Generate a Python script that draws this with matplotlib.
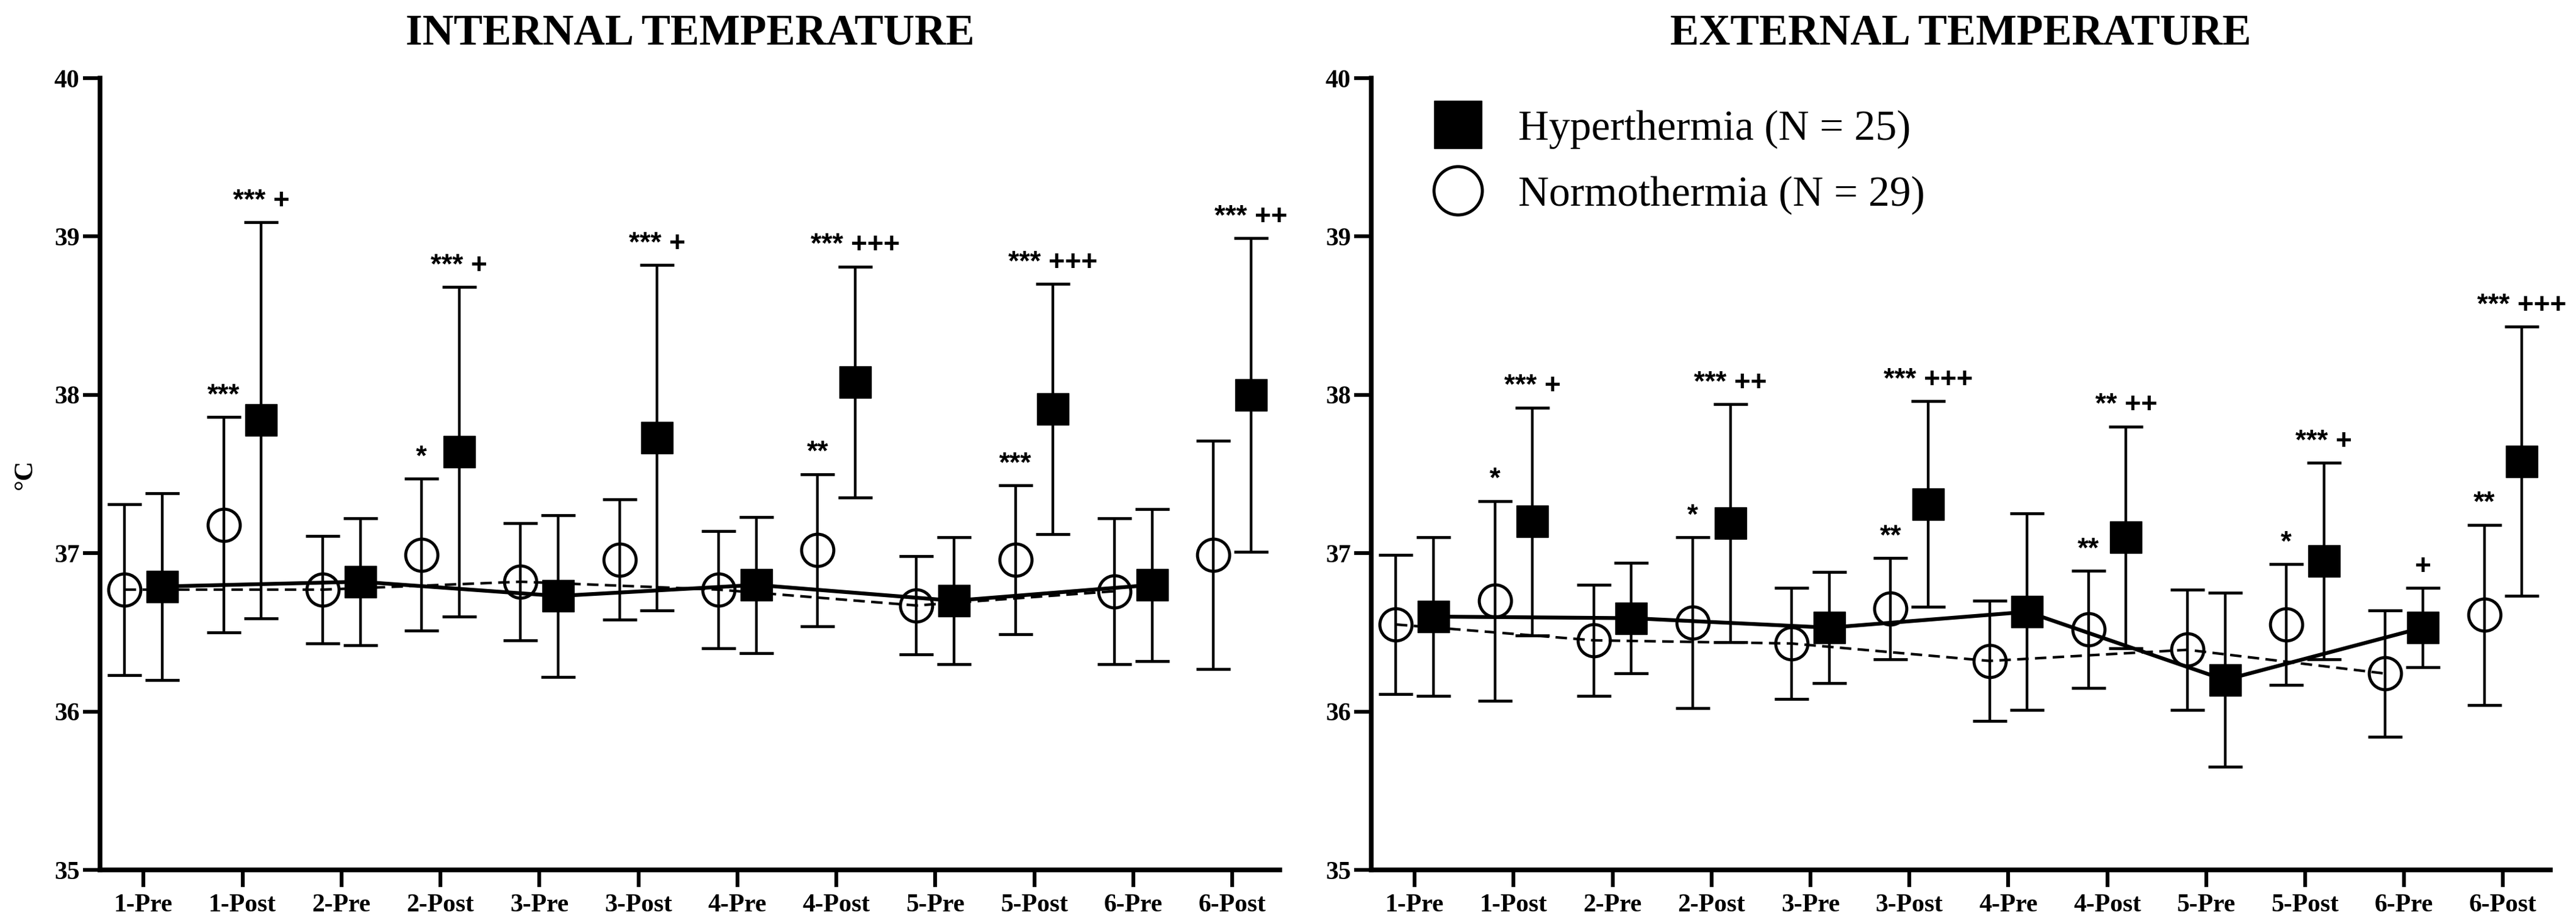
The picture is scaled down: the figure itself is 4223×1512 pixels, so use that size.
import matplotlib
matplotlib.use("Agg")
import matplotlib.pyplot as plt
import numpy as np

# ---- data ----
time_points = ["1-Pre", "1-Post", "2-Pre", "2-Post", "3-Pre", "3-Post",
               "4-Pre", "4-Post", "5-Pre", "5-Post", "6-Pre", "6-Post"]

# internal temperature (mean, SD)
int_hyper_mean = [36.79, 37.84, 36.82, 37.64, 36.73, 37.73, 36.80, 38.08, 36.70, 37.91, 36.80, 38.00]
int_hyper_sd = [0.59, 1.25, 0.40, 1.04, 0.51, 1.09, 0.43, 0.73, 0.40, 0.79, 0.48, 0.99]
int_norm_mean = [36.77, 37.18, 36.77, 36.99, 36.82, 36.96, 36.77, 37.02, 36.67, 36.96, 36.76, 36.99]
int_norm_sd = [0.54, 0.68, 0.34, 0.48, 0.37, 0.38, 0.37, 0.48, 0.31, 0.47, 0.46, 0.72]

# external temperature (mean, SD)
ext_hyper_mean = [36.60, 37.20, 36.59, 37.19, 36.53, 37.31, 36.63, 37.10, 36.20, 36.95, 36.53, 37.58]
ext_hyper_sd = [0.50, 0.72, 0.35, 0.75, 0.35, 0.65, 0.62, 0.70, 0.55, 0.62, 0.25, 0.85]
ext_norm_mean = [36.55, 36.70, 36.45, 36.56, 36.43, 36.65, 36.32, 36.52, 36.39, 36.55, 36.24, 36.61]
ext_norm_sd = [0.44, 0.63, 0.35, 0.54, 0.35, 0.32, 0.38, 0.37, 0.38, 0.38, 0.40, 0.57]

# significance marks written above the error bars
int_norm_sig = ["", "***", "", "*", "", "", "", "**", "", "***", "", ""]
int_hyper_sig = ["", "*** +", "", "*** +", "", "*** +", "", "*** +++", "", "*** +++", "", "*** ++"]
ext_norm_sig = ["", "*", "", "*", "", "**", "", "**", "", "*", "", "**"]
ext_hyper_sig = ["", "*** +", "", "*** ++", "", "*** +++", "", "** ++", "", "*** +", "+", "*** +++"]

# ---- style ----
SERIF = "Liberation Serif"
SANS = "Liberation Sans"
OFF = 0.19          # horizontal offset of the two groups around each tick
DPI = 100


def panel(ax, title, hm, hs, nm, ns, hsig, nsig):
    x = np.arange(len(time_points))
    xh = x + OFF
    xn = x - OFF
    hm, hs, nm, ns = map(np.asarray, (hm, hs, nm, ns))

    # error bars
    ax.errorbar(xn, nm, yerr=ns, fmt="none", ecolor="black", elinewidth=3.2,
                capsize=20, capthick=3.4, zorder=2)
    ax.errorbar(xh, hm, yerr=hs, fmt="none", ecolor="black", elinewidth=3.2,
                capsize=20, capthick=3.4, zorder=2)

    # lines joining only the Pre values
    pre = x[::2]
    ax.plot(xn[pre], nm[pre], color="black", lw=3.0, ls=(0, (4.5, 2.5)), zorder=3)
    ax.plot(xh[pre], hm[pre], color="black", lw=4.5, ls="-", zorder=3)

    # markers
    hl, = ax.plot(xh, hm, ls="none", marker="s", ms=37, mfc="black", mec="black",
                  zorder=5, label="Hyperthermia (N = 25)")
    nl, = ax.plot(xn, nm, ls="none", marker="o", ms=38, mfc="none", mec="black",
                  mew=3.6, zorder=4, label="Normothermia (N = 29)")

    # significance labels
    for i in range(len(time_points)):
        if nsig[i]:
            ax.annotate(nsig[i], (xn[i], nm[i] + ns[i]), xytext=(0, 9),
                        textcoords="offset points", ha="center", va="bottom",
                        fontsize=33, fontweight="bold", family=SANS)
        if hsig[i]:
            ax.annotate(hsig[i], (xh[i], hm[i] + hs[i]), xytext=(0, 9),
                        textcoords="offset points", ha="center", va="bottom",
                        fontsize=33, fontweight="bold", family=SANS)

    ax.set_ylim(35, 40)
    ax.set_xlim(-0.44, 11.48)
    ax.set_yticks([35, 36, 37, 38, 39, 40])
    ax.set_xticks(x)
    ax.set_xticklabels(time_points)
    for lab in ax.get_xticklabels() + ax.get_yticklabels():
        lab.set_family(SERIF)
        lab.set_fontweight("bold")
        lab.set_fontsize(30)
    ax.tick_params(axis="both", direction="out", length=20, width=4.5)
    ax.tick_params(axis="x", pad=8)
    ax.tick_params(axis="y", pad=4)

    for s in ("top", "right"):
        ax.spines[s].set_visible(False)
    for s in ("left", "bottom"):
        ax.spines[s].set_linewidth(5.5)

    ax.set_title(title, family=SERIF, fontweight="bold", fontsize=51, pad=40)
    return hl, nl


fig = plt.figure(figsize=(4223 / DPI, 1512 / DPI), dpi=DPI)
ax1 = fig.add_axes([0.0388, 0.0575, 0.4580, 0.8578])
ax2 = fig.add_axes([0.5323, 0.0575, 0.4578, 0.8578])

panel(ax1, "INTERNAL TEMPERATURE", int_hyper_mean, int_hyper_sd,
      int_norm_mean, int_norm_sd, int_hyper_sig, int_norm_sig)
hl, nl = panel(ax2, "EXTERNAL TEMPERATURE", ext_hyper_mean, ext_hyper_sd,
               ext_norm_mean, ext_norm_sd, ext_hyper_sig, ext_norm_sig)

ax1.set_ylabel("°C", family=SERIF, fontweight="bold", fontsize=32, labelpad=20)

ax2.legend(handles=[hl, nl], loc="upper left", bbox_to_anchor=(0.054, 0.96),
           frameon=False, borderpad=0, borderaxespad=0, handlelength=1.1,
           handletextpad=0.87, labelspacing=0.64, markerscale=1.5,
           prop={"family": SERIF, "size": 50})

fig.savefig("out.png", dpi=DPI, facecolor="white")
